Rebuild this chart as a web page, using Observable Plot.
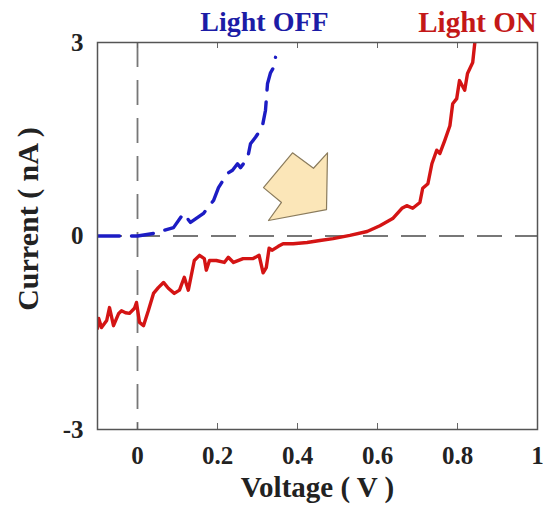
<!DOCTYPE html>
<html>
<head>
<meta charset="utf-8">
<script src="https://cdn.jsdelivr.net/npm/d3@7"></script>
<script src="https://cdn.jsdelivr.net/npm/@observablehq/plot@0.6"></script>
<style>
  html, body { margin: 0; padding: 0; background: #fff; }
</style>
</head>
<body>
<div id="chart"></div>
<script>
// Light OFF (blue dashed) — voltage (V), current (nA)
const offV = [-0.1, -0.06, 0, 0.04, 0.09, 0.115, 0.1325, 0.165, 0.19, 0.2025, 0.225, 0.2375, 0.25, 0.2575, 0.275, 0.2825, 0.295, 0.3025, 0.3125, 0.32, 0.325, 0.3325, 0.34, 0.345];
const offI = [0, 0, 0, 0.04, 0.13, 0.35, 0.21, 0.35, 0.55, 0.75, 0.97, 1.02, 1.12, 1.06, 1.2, 1.43, 1.53, 1.6, 1.71, 1.95, 2.36, 2.53, 2.61, 2.77];

// Light ON (red solid)
const onV = [-0.1, -0.097, -0.09, -0.077, -0.07, -0.06, -0.047, -0.04, -0.03, -0.02, -0.0075, -0.0025, 0.005, 0.015, 0.027, 0.04, 0.052, 0.065, 0.077, 0.092, 0.105, 0.117, 0.127, 0.142, 0.155, 0.167, 0.172, 0.18, 0.197, 0.217, 0.227, 0.24, 0.264, 0.289, 0.304, 0.314, 0.322, 0.329, 0.337, 0.352, 0.364, 0.389, 0.424, 0.456, 0.489, 0.531, 0.574, 0.606, 0.638, 0.661, 0.673, 0.688, 0.706, 0.713, 0.726, 0.736, 0.748, 0.756, 0.768, 0.781, 0.788, 0.798, 0.805, 0.818, 0.825, 0.838, 0.843, 0.846];
const onI = [-1.43, -1.28, -1.42, -1.31, -1.11, -1.39, -1.2, -1.16, -1.19, -1.2, -1.12, -1.03, -1.34, -1.39, -1.16, -0.89, -0.8, -0.72, -0.81, -0.89, -0.84, -0.64, -0.84, -0.38, -0.3, -0.35, -0.53, -0.38, -0.38, -0.41, -0.33, -0.41, -0.35, -0.35, -0.3, -0.57, -0.49, -0.19, -0.22, -0.16, -0.12, -0.12, -0.1, -0.07, -0.04, 0.01, 0.07, 0.16, 0.27, 0.43, 0.47, 0.43, 0.52, 0.74, 0.81, 1.12, 1.33, 1.28, 1.48, 1.71, 2.05, 2.13, 2.41, 2.26, 2.52, 2.69, 2.98, 3.1];

// Arrow annotation polygon (data coordinates)
const arrowX = [0.3875, 0.44, 0.475, 0.4725, 0.3275, 0.36, 0.315];
const arrowY = [1.29, 1.05, 1.29, 0.41, 0.24, 0.52, 0.75];

// Tick values and labels
const xTicks = [0, 0.2, 0.4, 0.6, 0.8, 1];
const yTicks = [-3, 0, 3];
const xLabel = "Voltage ( V )";
const yLabel = "Current ( nA )";
const seriesNames = ["Light OFF", "Light ON"];

const offData = offV.map((v, i) => ({v, c: offI[i]}));
const onData = onV.map((v, i) => ({v, c: onI[i]}));
const arrowData = arrowX.map((x, i) => ({x, y: arrowY[i]}));

const font = "'Liberation Serif', 'Times New Roman', serif";

const chart = Plot.plot({
  width: 543,
  height: 508,
  marginLeft: 97,
  marginRight: 6,
  marginTop: 42,
  marginBottom: 79,
  style: {fontFamily: font, background: "#fff"},
  x: {domain: [-0.1, 1]},
  y: {domain: [-3, 3]},
  marks: [
    Plot.ruleY([0], {stroke: "#777", strokeWidth: 1.8, strokeDasharray: "25,13"}),
    Plot.ruleX([0], {stroke: "#777", strokeWidth: 1.8, strokeDasharray: "25,13"}),
    Plot.line(offData, {x: "v", y: "c", stroke: "#1c1cc4", strokeWidth: 3.4, strokeDasharray: "22,12", clip: true}),
    Plot.line(onData, {x: "v", y: "c", stroke: "#d41414", strokeWidth: 3.4, clip: true}),
    Plot.line(arrowData, {x: "x", y: "y", curve: "linear-closed", fill: "#fbe6b8", stroke: "#8a7b5c", strokeWidth: 1.2}),
    Plot.ruleX(xTicks, {stroke: "#666", insetTop: 381}),
    Plot.ruleX(xTicks, {stroke: "#666", insetBottom: 381}),
    Plot.frame({stroke: "#555", strokeWidth: 1.5}),
    Plot.axisX(xTicks, {tickSize: 0, tickPadding: 17, fontSize: 25, fontWeight: "bold", fill: "#222", tickFormat: d => String(d), label: null}),
    Plot.axisY(yTicks, {tickSize: 0, tickPadding: 14, fontSize: 25, fontWeight: "bold", fill: "#222", tickFormat: d => String(d), label: null}),
    Plot.text([xLabel], {frameAnchor: "bottom", lineAnchor: "middle", textAnchor: "middle", dy: 58, fontSize: 29, fontWeight: "bold", fill: "#222"}),
    Plot.text([yLabel], {frameAnchor: "left", lineAnchor: "middle", textAnchor: "middle", dx: -69, dy: -17, rotate: -90, fontSize: 30, fontWeight: "bold", fill: "#222"}),
    Plot.text([seriesNames[0]], {frameAnchor: "top", lineAnchor: "middle", textAnchor: "middle", dx: -53, dy: -20, fontSize: 28, fontWeight: "bold", fill: "#1c1ca6"}),
    Plot.text([seriesNames[1]], {frameAnchor: "top", lineAnchor: "middle", textAnchor: "middle", dx: 160, dy: -20, fontSize: 29, fontWeight: "bold", fill: "#c41818"})
  ]
});
document.getElementById("chart").appendChild(chart);
</script>
</body>
</html>
